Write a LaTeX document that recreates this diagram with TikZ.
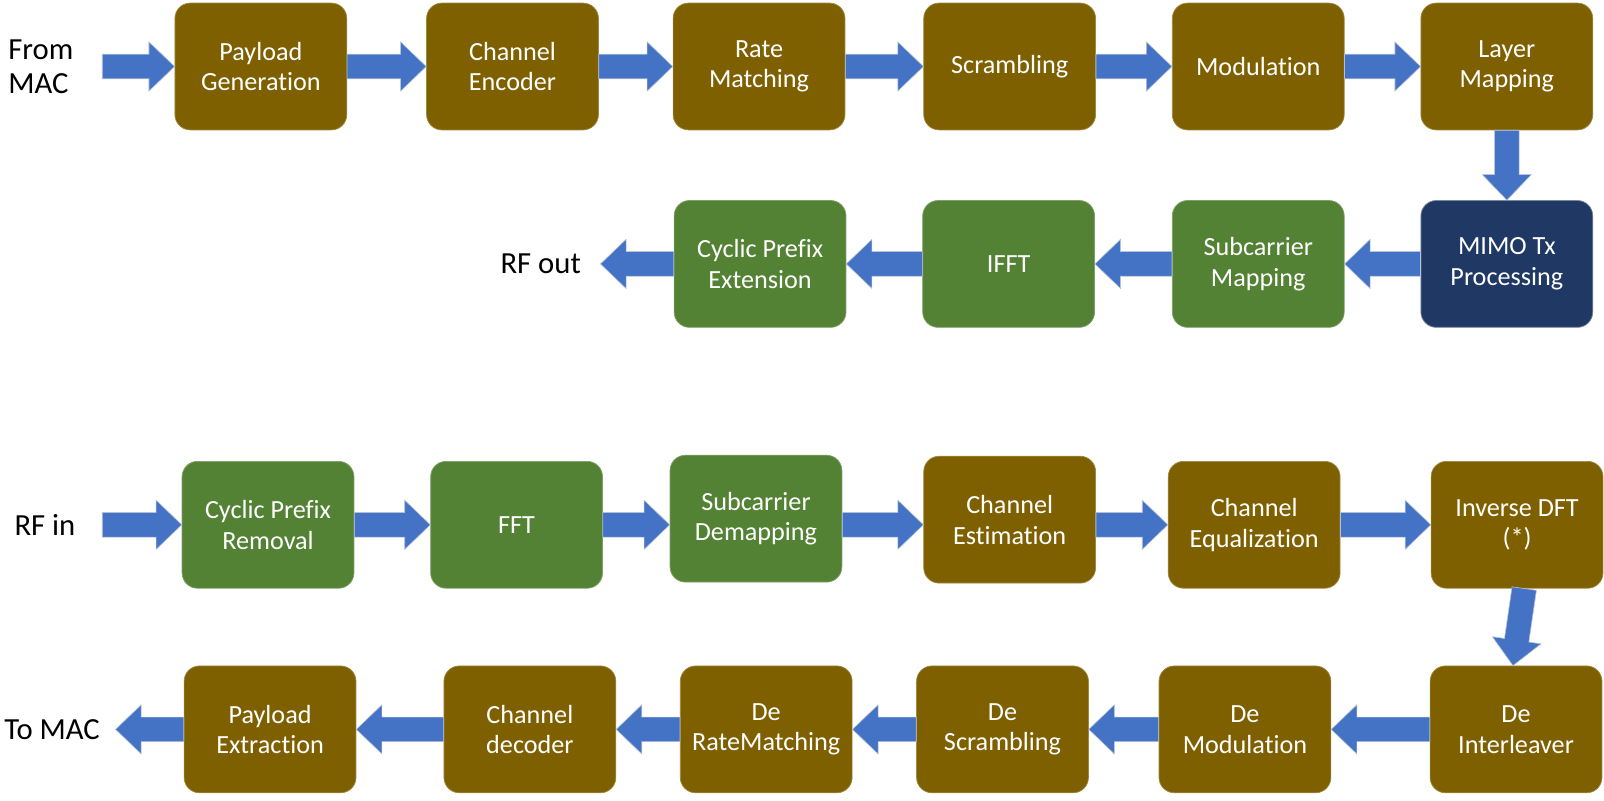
\documentclass[tikz,border=0pt]{standalone}
\usepackage{fontspec}
\setmainfont[Ligatures=NoCommon]{Carlito}
\usetikzlibrary{calc}
\definecolor{brn}{HTML}{7F6000}
\definecolor{grn}{HTML}{548235}
\definecolor{nvy}{HTML}{203864}
\definecolor{ablue}{HTML}{4472C4}
\definecolor{aedge}{HTML}{B4C0D8}
\tikzset{
 blk/.style={rounded corners=15pt, minimum width=168pt, minimum height=124pt, text=white, align=center,
   font=\fontsize{25.6}{30}\selectfont, draw=#1!75!white, line width=0.7pt, fill=#1, inner sep=0pt},
 lbl/.style={text=black, font=\fontsize{30}{33}\selectfont, align=left, inner sep=0pt},
 barr/.style={fill=ablue, draw=aedge, line width=0.6pt}
}
\newcommand\barrow[2]{%
 \coordinate (ba) at (#1); \coordinate (bb) at (#2);
 \coordinate (bh) at ($(bb)!25pt!(ba)$);
 \filldraw[barr] ($(ba)!12pt!90:(bb)$) -- ($(bh)!12pt!90:(bb)$) -- ($(bh)!24pt!90:(bb)$) -- (bb)
   -- ($(bh)!24pt!-90:(bb)$) -- ($(bh)!12pt!-90:(bb)$) -- ($(ba)!12pt!-90:(bb)$) -- cycle;}
\begin{document}
\begin{tikzpicture}[x=1pt,y=-1pt]
\useasboundingbox (0,0) rectangle (1568,782.1);
% row 1
\node[blk=brn] (pg) at (255,65) {Payload\\Generation};
\node[blk=brn] (ce) at (501,65) {Channel\\Encoder};
\node[blk=brn] (rm) at (742,65) {Rate\\Matching};
\node[blk=brn] (sc) at (987,65) {Scrambling};
\node[blk=brn] (mo) at (1230,65) {Modulation};
\node[blk=brn] (lm) at (1473,65) {Layer\\Mapping};
% row 2
\node[blk=grn] (cpe) at (743,258) {Cyclic Prefix\\Extension};
\node[blk=grn] (ifft) at (986,258) {IFFT};
\node[blk=grn] (sm) at (1230,258) {Subcarrier\\Mapping};
\node[blk=nvy, draw=nvy!60!white] (mimo) at (1473,258) {MIMO Tx\\Processing};
% row 3
\node[blk=grn] (cpr) at (262,513) {Cyclic Prefix\\Removal};
\node[blk=grn] (fft) at (505,513) {FFT};
\node[blk=grn] (sd) at (739,507) {Subcarrier\\Demapping};
\node[blk=brn] (ces) at (987,508) {Channel\\Estimation};
\node[blk=brn] (ceq) at (1226,513) {Channel\\Equalization};
\node[blk=brn] (idft) at (1483,513) {Inverse DFT\\(*)};
% row 4
\node[blk=brn] (pe) at (264,713) {Payload\\Extraction};
\node[blk=brn] (cd) at (518,713) {Channel\\decoder};
\node[blk=brn] (drm) at (749,713) {De\\RateMatching};
\node[blk=brn] (ds) at (980,713) {De\\Scrambling};
\node[blk=brn] (dm) at (1217,713) {De\\Modulation};
\node[blk=brn] (di) at (1482,713) {De\\Interleaver};
% labels
\node[lbl, anchor=west] (frommac) at (8,65) {From\\MAC};
\node[lbl, anchor=east] (rfout) at (568,258) {RF out};
\node[lbl, anchor=west] (rfin) at (14,513) {RF in};
\node[lbl, anchor=west] (tomac) at (4,713) {To MAC};
\coordinate (s1) at (100,65);
\coordinate (s2) at (587,258);
\coordinate (s3) at (100,513);
\coordinate (s4) at (113,713);
% arrows row 1
\barrow{s1}{pg.west}
\barrow{pg.east}{ce.west}
\barrow{ce.east}{rm.west}
\barrow{rm.east}{sc.west}
\barrow{sc.east}{mo.west}
\barrow{mo.east}{lm.west}
\barrow{lm.south}{mimo.north}
% row 2
\barrow{mimo.west}{sm.east}
\barrow{sm.west}{ifft.east}
\barrow{ifft.west}{cpe.east}
\barrow{cpe.west}{s2}
% row 3
\barrow{s3}{cpr.west}
\barrow{cpr.east}{fft.west}
\barrow{fft.east}{sd.west |- fft.east}
\barrow{sd.east |- fft.east}{ces.west |- fft.east}
\barrow{ces.east |- fft.east}{ceq.west}
\barrow{ceq.east}{idft.west}
\barrow{$(idft.south)+(7,0)$}{$(di.north)+(-3,0)$}
% row 4
\barrow{di.west}{dm.east}
\barrow{dm.west}{ds.east}
\barrow{ds.west}{drm.east}
\barrow{drm.west}{cd.east}
\barrow{cd.west}{pe.east}
\barrow{pe.west}{s4}
\end{tikzpicture}
\end{document}
